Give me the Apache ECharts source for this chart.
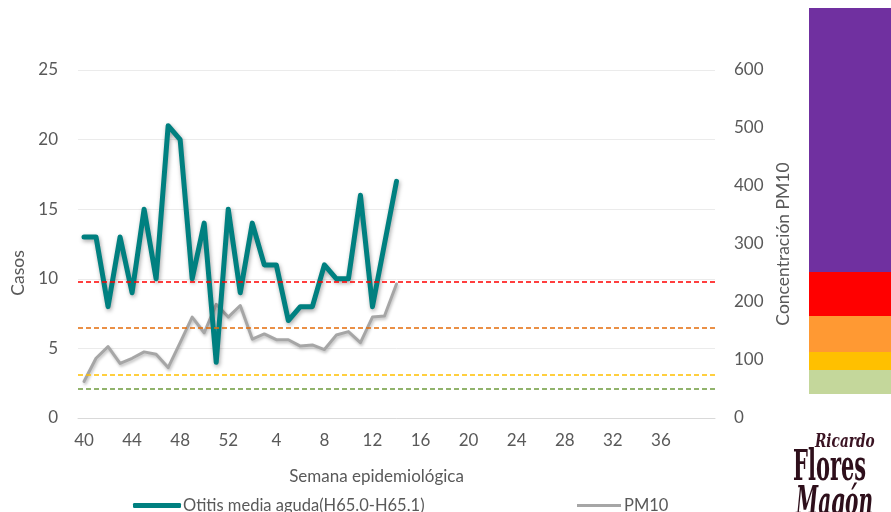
<!DOCTYPE html>
<html>
<head>
<meta charset="utf-8">
<script src="https://cdn.jsdelivr.net/npm/echarts@6/dist/echarts.min.js"></script>
<style>
  html, body { margin: 0; padding: 0; background: #ffffff; }
  #chart { width: 891px; height: 512px; }
</style>
</head>
<body>
<div id="chart"></div>
<script>
// Epidemiological weeks: 40–52 of one year, then 1–40 of the next
const weeks = ['40','41','42','43','44','45','46','47','48','49','50','51','52',
  '1','2','3','4','5','6','7','8','9','10','11','12','13','14','15','16','17','18','19','20',
  '21','22','23','24','25','26','27','28','29','30','31','32','33','34','35','36','37','38','39','40'];

// Weekly cases of acute otitis media (left axis)
const otitisCases = [13, 13, 8, 13, 9, 15, 10, 21, 20, 10, 14, 4, 15,
  9, 14, 11, 11, 7, 8, 8, 11, 10, 10, 16, 8, null, 17];

// Weekly PM10 concentration (right axis)
const pm10Values = [63, 103, 123, 94, 103, 114, 110, 87, 130, 174, 147, 196, 174,
  194, 136, 145, 135, 135, 124, 126, 118, 143, 149, 130, 174, 176, 231];

// Air-quality thresholds for PM10 and their line colours
const pm10Thresholds = [235, 155, 75, 50];
const thresholdColors = ['#FF0000', '#E36C0A', '#FFC000', '#6E9A3C'];

// Air-quality colour scale shown at the right (bottom to top)
const bandColors = ['#C4D79B', '#FFC000', '#FF9933', '#FF0000', '#7030A0'];
const bandSizes = [24, 18, 36, 44, 264];

const FONT = 'Lato';
const TEXT = '#595959';
const LOGO_FONT = '"DejaVu Serif", "Liberation Serif", serif';

const chart = echarts.init(document.getElementById('chart'), null, { renderer: 'canvas' });

const option = {
  animation: false,
  backgroundColor: '#ffffff',
  textStyle: { fontFamily: FONT },
  grid: [
    { left: 78, right: 176, top: 70, bottom: 94 },
    { left: 809, width: 82, top: 8, height: 386 }
  ],
  legend: [
    {
      data: [{ name: 'Otitis media aguda(H65.0-H65.1)', icon: 'roundRect' }],
      left: 128, top: 492,
      itemWidth: 48, itemHeight: 5, itemGap: 4,
      textStyle: { color: TEXT, fontSize: 16.5, fontFamily: FONT, padding: [0, 0, 0, -3] }
    },
    {
      data: [{ name: 'PM10', icon: 'rect' }],
      left: 572, top: 492,
      itemWidth: 44, itemHeight: 3,
      textStyle: { color: TEXT, fontSize: 16.5, fontFamily: FONT, padding: [0, 0, 0, -2] }
    }
  ],
  xAxis: [
    {
      type: 'category',
      gridIndex: 0,
      data: weeks,
      boundaryGap: true,
      name: 'Semana epidemiológica',
      nameLocation: 'middle',
      nameGap: 50,
      nameTextStyle: { color: TEXT, fontSize: 17, fontFamily: FONT, padding: [0, 40, 0, 0] },
      axisLine: { lineStyle: { color: '#D9D9D9', width: 1 } },
      axisTick: { show: false },
      axisLabel: {
        color: TEXT, fontSize: 17, fontFamily: FONT, margin: 14,
        interval: (i) => i % 4 === 0 && i < weeks.length - 1
      },
      splitLine: { show: false }
    },
    {
      type: 'category',
      gridIndex: 1,
      data: ['escala'],
      show: false
    }
  ],
  yAxis: [
    {
      type: 'value',
      gridIndex: 0,
      min: 0, max: 25, interval: 5,
      name: 'Casos',
      nameLocation: 'middle',
      nameGap: 48,
      nameTextStyle: { color: TEXT, fontSize: 17.5, fontFamily: FONT, padding: [0, 0, 0, -58] },
      axisLine: { show: false },
      axisTick: { show: false },
      axisLabel: { color: TEXT, fontSize: 17, fontFamily: FONT, margin: 20 },
      splitLine: { lineStyle: { color: '#EBEBEB', width: 1 } }
    },
    {
      type: 'value',
      gridIndex: 0,
      position: 'right',
      min: 0, max: 600, interval: 100,
      name: 'Concentración PM10',
      nameLocation: 'middle',
      nameGap: 58,
      nameTextStyle: { color: TEXT, fontSize: 17.5, fontFamily: FONT },
      axisLine: { show: false },
      axisTick: { show: false },
      axisLabel: { color: TEXT, fontSize: 17, fontFamily: FONT, margin: 19 },
      splitLine: { show: false }
    },
    {
      type: 'value',
      gridIndex: 1,
      min: 0,
      max: bandSizes.reduce((a, b) => a + b, 0),
      show: false
    }
  ],
  series: [
    {
      name: 'Otitis media aguda(H65.0-H65.1)',
      type: 'line',
      xAxisIndex: 0, yAxisIndex: 0,
      data: otitisCases,
      connectNulls: true,
      symbol: 'none',
      z: 4,
      color: '#008080',
      lineStyle: {
        color: '#008080', width: 5, cap: 'round', join: 'round',
        shadowColor: 'rgba(0,0,0,0.35)', shadowBlur: 4, shadowOffsetX: 1, shadowOffsetY: 2
      }
    },
    {
      name: 'PM10',
      type: 'line',
      xAxisIndex: 0, yAxisIndex: 1,
      data: pm10Values,
      symbol: 'none',
      z: 3,
      color: '#A6A6A6',
      lineStyle: {
        color: '#A6A6A6', width: 3, cap: 'round', join: 'round',
        shadowColor: 'rgba(0,0,0,0.25)', shadowBlur: 3, shadowOffsetX: 1, shadowOffsetY: 2
      },
      markLine: {
        silent: true,
        symbol: 'none',
        label: { show: false },
        data: pm10Thresholds.map((v, i) => ({
          yAxis: v,
          lineStyle: { color: thresholdColors[i], type: [5, 3], width: 1.5 }
        }))
      }
    },
    ...bandSizes.map((size, i) => ({
      name: 'banda' + i,
      type: 'bar',
      xAxisIndex: 1, yAxisIndex: 2,
      stack: 'escala',
      barWidth: '100%',
      silent: true,
      data: [size],
      itemStyle: { color: bandColors[i] }
    }))
  ],
  graphic: [
    // Masthead logo in the lower-right corner
    {
      type: 'group',
      left: 793, top: 433,
      silent: true,
      children: [
        {
          type: 'text',
          x: 22, y: 0, scaleX: 0.72, scaleY: 1,
          style: {
            text: 'Ricardo', fill: '#3a1322',
            font: 'italic bold 19px ' + LOGO_FONT
          }
        },
        {
          type: 'text',
          x: 0, y: 15, scaleX: 0.5, scaleY: 1,
          style: {
            text: 'Flores', fill: '#2e0f1b',
            font: 'bold 42px ' + LOGO_FONT
          }
        },
        {
          type: 'text',
          x: 3, y: 51, scaleX: 0.5, scaleY: 1,
          style: {
            text: 'Magón', fill: '#2e0f1b',
            font: 'italic bold 40px ' + LOGO_FONT
          }
        }
      ]
    }
  ]
};

chart.setOption(option);
</script>
</body>
</html>
